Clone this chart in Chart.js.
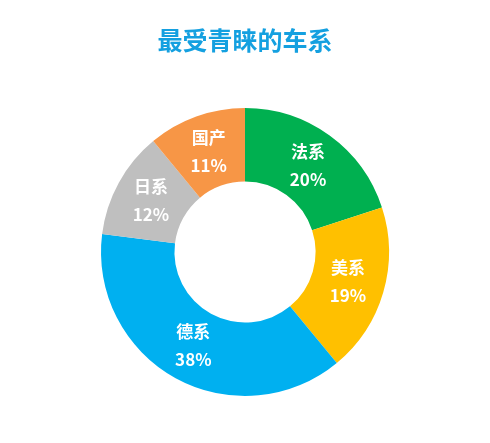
<!DOCTYPE html>
<html>
<head>
<meta charset="utf-8">
<script src="https://cdn.jsdelivr.net/npm/chart.js@4.4.1/dist/chart.umd.min.js"></script>
<style>
    html, body { margin: 0; padding: 0; background: #fff; }
    #wrap { width: 490px; height: 443px; }
</style>
</head>
<body>
<div id="wrap"><canvas id="chart" width="490" height="443"></canvas></div>
<script>
// 车系占比数据
const categories = ['法系', '美系', '德系', '日系', '国产'];
const shares = [20, 19, 38, 12, 11];
const sliceColors = ['#00b050', '#ffc000', '#00b0f0', '#bfbfbf', '#f79646'];

// 在每个扇区中间写 名称 + 百分比
const sliceLabels = {
    id: 'sliceLabels',
    afterDatasetsDraw(chart) {
        const ctx = chart.ctx;
        const meta = chart.getDatasetMeta(0);
        ctx.save();
        ctx.fillStyle = '#fff';
        ctx.textAlign = 'center';
        ctx.textBaseline = 'middle';
        ctx.font = 'bold 17px "Noto Sans CJK SC", sans-serif';
        meta.data.forEach((arc, i) => {
            const pos = arc.tooltipPosition();
            ctx.fillText(categories[i], pos.x, pos.y - 14);
            ctx.fillText(shares[i] + '%', pos.x, pos.y + 14);
        });
        ctx.restore();
    }
};

new Chart(document.getElementById('chart'), {
    type: 'doughnut',
    data: {
        labels: categories,
        datasets: [{
            data: shares,
            backgroundColor: sliceColors,
            borderWidth: 0
        }]
    },
    options: {
        responsive: false,
        devicePixelRatio: 1,
        animation: false,
        cutout: '49%',
        layout: { padding: { left: 0, right: 0, bottom: 47 } },
        plugins: {
            legend: { display: false },
            tooltip: { enabled: false },
            title: {
                display: true,
                text: '最受青睐的车系',
                color: '#14a0e0',
                font: { size: 25, weight: 'bold', family: '"Noto Sans CJK SC", sans-serif' },
                padding: { top: 25, bottom: 53 }
            }
        }
    },
    plugins: [sliceLabels]
});
</script>
</body>
</html>
